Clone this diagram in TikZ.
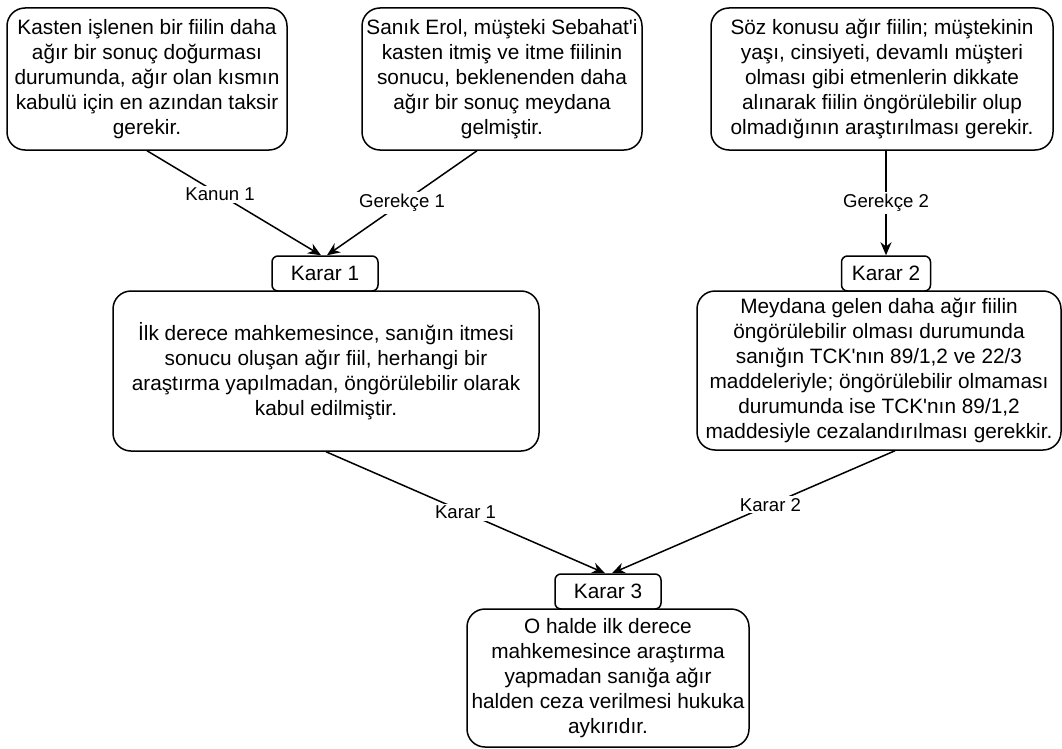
\documentclass[tikz,border=0pt]{standalone}
\usepackage{fontspec}
\setmainfont{Liberation Sans}
\usetikzlibrary{arrows.meta}
\newcommand{\ap}{\textquotesingle}
\tikzset{
  fact/.style={draw, line width=1.5pt, rounded corners=18pt, align=center,
    inner sep=0pt, font=\fontsize{20.8}{25}\selectfont},
  karar/.style={draw, line width=1.5pt, rounded corners=6pt, align=center,
    inner sep=0pt, minimum height=35pt, font=\fontsize{20.8}{25}\selectfont},
  lbl/.style={fill=white, inner sep=2pt, font=\fontsize{18.6}{22}\selectfont},
  link/.style={line width=1.5pt, -{Stealth[length=13pt,width=11pt]}}
}

\begin{document}
\begin{tikzpicture}[x=1pt, y=-1pt]
    \useasboundingbox (0,0) rectangle (1062,749);
    % Top row: law and reasons
    \node[fact, minimum width=280pt, minimum height=142pt] (kanun) at (147,79)
      {Kasten işlenen bir fiilin daha\\ağır bir sonuç doğurması\\durumunda, ağır olan kısmın\\kabulü için en azından taksir\\gerekir.};
    \node[fact, minimum width=280pt, minimum height=142pt] (gerekce1) at (502,79)
      {Sanık Erol, müşteki Sebahat\ap i\\kasten itmiş ve itme fiilinin\\sonucu, beklenenden daha\\ağır bir sonuç meydana\\gelmiştir.};
    \node[fact, minimum width=342pt, minimum height=142pt] (gerekce2) at (882,79)
      {Söz konusu ağır fiilin; müştekinin\\yaşı, cinsiyeti, devamlı müşteri\\olması gibi etmenlerin dikkate\\alınarak fiilin öngörülebilir olup\\olmadığının araştırılması gerekir.};
    % Decisions 1 and 2
    \node[karar, minimum width=106pt] (k1) at (325,273.5) {Karar 1};
    \node[fact, minimum width=426pt, minimum height=160pt] (karar1) at (326,371)
      {İlk derece mahkemesince, sanığın itmesi\\sonucu oluşan ağır fiil, herhangi bir\\araştırma yapılmadan, öngörülebilir olarak\\kabul edilmiştir.};
    \node[karar, minimum width=89pt] (k2) at (886,273.5) {Karar 2};
    \node[fact, minimum width=364pt, minimum height=159pt] (karar2) at (879,370.5)
      {Meydana gelen daha ağır fiilin\\öngörülebilir olması durumunda\\sanığın TCK\ap nın 89/1,2 ve 22/3\\maddeleriyle; öngörülebilir olmaması\\durumunda ise TCK\ap nın 89/1,2\\maddesiyle cezalandırılması gerekkir.};
    % Decision 3
    \node[karar, minimum width=106pt] (k3) at (608,591.5) {Karar 3};
    \node[fact, minimum width=282pt, minimum height=138pt] (karar3) at (608,678)
      {O halde ilk derece\\mahkemesince araştırma\\yapmadan sanığa ağır\\halden ceza verilmesi hukuka\\aykırıdır.};
    % Connectors
    \draw[link] (kanun.south) -- node[lbl, pos=0.42] {Kanun 1} ([xshift=-4pt]k1.north);
    \draw[link] ([xshift=-25pt]gerekce1.south) -- node[lbl] {Gerekçe 1} ([xshift=2pt]k1.north);
    \draw[link] (k2.north |- gerekce2.south) -- node[lbl, pos=0.5] {Gerekçe 2} (k2.north);
    \draw[link] (karar1.south) -- node[lbl] {Karar 1} ([xshift=-3pt]k3.north);
    \draw[link] ([xshift=16pt]karar2.south) -- node[lbl, pos=0.44] {Karar 2} ([xshift=4pt]k3.north);
\end{tikzpicture}
\end{document}
